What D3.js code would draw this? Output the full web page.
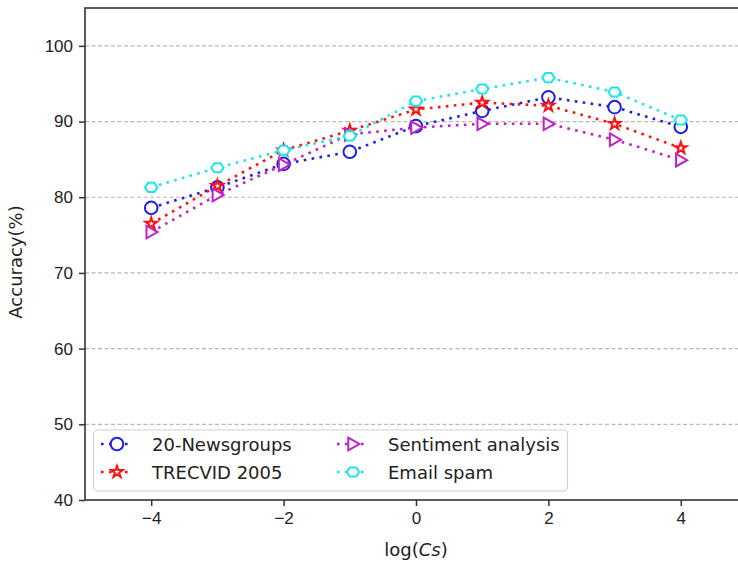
<!DOCTYPE html>
<html>
<head>
<meta charset="utf-8">
<script src="https://cdn.jsdelivr.net/npm/d3@7"></script>
<style>
  body { margin: 0; background: #fff; }
  svg { font-family: "DejaVu Sans", sans-serif; }
</style>
</head>
<body>
<svg id="chart" width="738" height="566"></svg>
<script>
// values
var logCs = [-4, -3, -2, -1, 0, 1, 2, 3, 4];
var newsgroups = [78.6, 81.3, 84.4, 86.0, 89.4, 91.4, 93.2, 91.9, 89.3];
var trecvid = [76.5, 81.5, 86.2, 88.8, 91.6, 92.5, 92.1, 89.7, 86.5];
var sentiment = [75.4, 80.3, 84.3, 88.3, 89.2, 89.7, 89.7, 87.6, 84.9];
var emailSpam = [81.3, 83.9, 86.2, 88.1, 92.7, 94.3, 95.8, 93.9, 90.2];
var xTicks = [-4, -2, 0, 2, 4];
var yTicks = [40, 50, 60, 70, 80, 90, 100];

var svg = d3.select("#chart");
var margin = {top: 8, left: 85};
var width = 662, height = 492;

var g = svg.append("g")
    .attr("transform", "translate(" + margin.left + "," + margin.top + ")");

var x = d3.scaleLinear().domain([-5, 5]).range([0, width]);
var y = d3.scaleLinear().domain([40, 105]).range([height, 0]);

// grid
g.selectAll(".grid")
    .data(yTicks.slice(1))
    .enter().append("line")
    .attr("x1", 0).attr("x2", width)
    .attr("y1", function(d) { return y(d); })
    .attr("y2", function(d) { return y(d); })
    .attr("stroke", "#b8b8b8")
    .attr("stroke-width", 1.2)
    .attr("stroke-dasharray", "4,2.5");

// axes
var xAxis = g.append("g")
    .attr("transform", "translate(0," + height + ")")
    .call(d3.axisBottom(x).tickValues(xTicks).tickSize(6).tickPadding(6)
        .tickFormat(function(d) { return d < 0 ? "\u2212" + Math.abs(d) : d; }));
var yAxis = g.append("g")
    .call(d3.axisLeft(y).tickValues(yTicks).tickSize(6).tickPadding(6));

[xAxis, yAxis].forEach(function(a) {
    a.select(".domain").remove();
    a.selectAll(".tick line").attr("stroke", "#333").attr("stroke-width", 1.5);
    a.selectAll(".tick text").attr("fill", "#222").style("font-size", "17px");
});

// frame
g.append("rect")
    .attr("x", 0).attr("y", 0)
    .attr("width", width).attr("height", height)
    .attr("fill", "none")
    .attr("stroke", "#333")
    .attr("stroke-width", 1.6);

// marker shapes
function triRight(s) {
    return "M" + (-s * 0.75) + "," + (-s) + "L" + (s) + ",0L" + (-s * 0.75) + "," + s + "Z";
}
function hexagon(s) {
    var p = [];
    for (var i = 0; i < 6; i++) {
        var a = Math.PI / 3 * i;
        p.push([s * Math.cos(a), s * 0.85 * Math.sin(a)]);
    }
    return "M" + p.join("L") + "Z";
}
var circlePath = d3.symbol().type(d3.symbolCircle).size(125)();
var starPath = d3.symbol().type(d3.symbolStar).size(42)();

var series = [
    {name: "20-Newsgroups", values: newsgroups, color: "#1f1fe0", path: circlePath},
    {name: "TRECVID 2005", values: trecvid, color: "#ff1010", path: starPath},
    {name: "Sentiment analysis", values: sentiment, color: "#c020c8", path: triRight(6.3)},
    {name: "Email spam", values: emailSpam, color: "#1ee4ee", path: hexagon(6.2)}
];

var line = d3.line()
    .x(function(d) { return x(d[0]); })
    .y(function(d) { return y(d[1]); });

series.forEach(function(s) {
    var pts = logCs.map(function(c, i) { return [c, s.values[i]]; });
    g.append("path")
        .datum(pts)
        .attr("d", line)
        .attr("fill", "none")
        .attr("stroke", s.color)
        .attr("stroke-width", 2.6)
        .attr("stroke-dasharray", "2.6,5.4");
    g.selectAll(null)
        .data(pts)
        .enter().append("path")
        .attr("d", s.path)
        .attr("transform", function(d) { return "translate(" + x(d[0]) + "," + y(d[1]) + ")"; })
        .attr("fill", "#fff")
        .attr("stroke", s.color)
        .attr("stroke-width", 2);
});

// legend
var legend = svg.append("g");
legend.append("rect")
    .attr("x", 93.5).attr("y", 430)
    .attr("width", 474).attr("height", 61)
    .attr("rx", 4).attr("ry", 4)
    .attr("fill", "#fff").attr("fill-opacity", 0.85)
    .attr("stroke", "#d0d0d0").attr("stroke-width", 1.2);

var legendPos = [[117, 444], [117, 472], [353, 444], [353, 472]];
series.forEach(function(s, i) {
    var cx = legendPos[i][0], cy = legendPos[i][1];
    legend.append("line")
        .attr("x1", cx - 16).attr("x2", cx + 16)
        .attr("y1", cy).attr("y2", cy)
        .attr("stroke", s.color)
        .attr("stroke-width", 2.6)
        .attr("stroke-dasharray", "2.6,5.4");
    legend.append("path")
        .attr("d", s.path)
        .attr("transform", "translate(" + cx + "," + cy + ")")
        .attr("fill", "#fff")
        .attr("stroke", s.color)
        .attr("stroke-width", 2);
    legend.append("text")
        .attr("x", cx + 35)
        .attr("y", cy + 6.5)
        .attr("fill", "#222")
        .style("font-size", "18px")
        .text(s.name);
});

// axis labels
var xl = svg.append("text")
    .attr("x", 416).attr("y", 556)
    .attr("text-anchor", "middle")
    .attr("fill", "#222")
    .style("font-size", "18px");
xl.append("tspan").text("log(");
xl.append("tspan").style("font-style", "italic").text("Cs");
xl.append("tspan").text(")");

svg.append("text")
    .attr("transform", "translate(22,262) rotate(-90)")
    .attr("text-anchor", "middle")
    .attr("fill", "#222")
    .style("font-size", "18px")
    .text("Accuracy(%)");
</script>
</body>
</html>
